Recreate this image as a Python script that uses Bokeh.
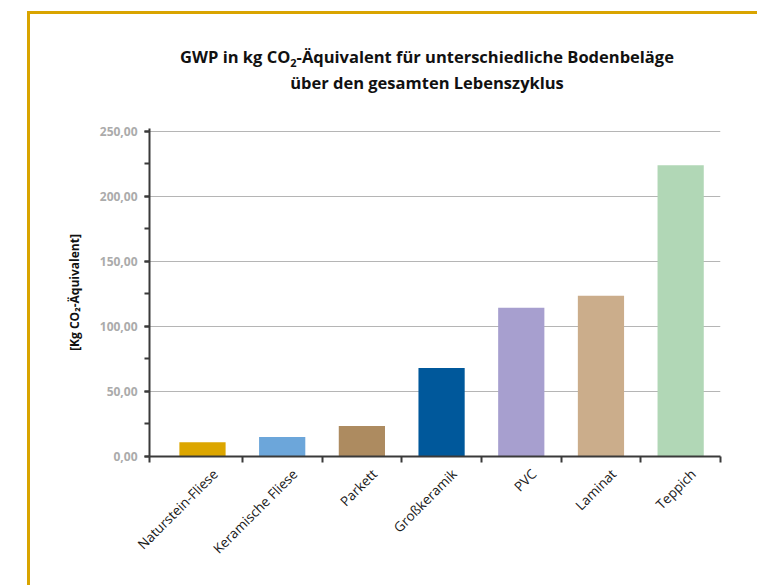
from bokeh.plotting import figure
from bokeh.layouts import column
from bokeh.models import Range1d, FixedTicker, SingleIntervalTicker, ColumnDataSource, Div
from bokeh.embed import file_html
from bokeh.resources import INLINE

# GWP per floor covering over the full life cycle
categories = ["Naturstein-Fliese", "Keramische Fliese", "Parkett", "Großkeramik",
              "PVC", "Laminat", "Teppich"]
gwp_values = [11.0, 15.0, 23.5, 68.0, 114.3, 123.5, 223.8]
bar_colors = ["#dca600", "#6ca6da", "#ad8b60", "#00589b", "#a79fcf", "#cbad8b", "#b1d7b6"]
y_ticks = [0, 50, 100, 150, 200, 250]
y_tick_labels = ["0,00", "50,00", "100,00", "150,00", "200,00", "250,00"]

title_line1 = ('GWP in kg CO<sub style="line-height:0;font-size:11px">2</sub>'
               '-Äquivalent für unterschiedliche Bodenbeläge')
title_line2 = "über den gesamten Lebenszyklus"
y_label = "[Kg CO₂-Äquivalent]"

FONT = "Open Sans"
GOLD = "#d9a400"
AXIS = "#3a3a3a"

n = len(categories)
positions = [i + 0.5 for i in range(n)]
source = ColumnDataSource(dict(x=positions, top=gwp_values, color=bar_colors, name=categories))

# heading block above the chart
heading = Div(
    text=(f'<div style="font-family:\'{FONT}\';font-weight:bold;font-size:16.5px;'
          f'color:#111111;text-align:center;line-height:26px;box-sizing:content-box;'
          f'padding:30px 0 0 67px;width:660px;">'
          f'{title_line1}<br>{title_line2}</div>'),
    width=727, height=100, margin=(0, 0, 0, 0))

x_start = -0.165
p = figure(width=727, height=471,
           x_range=Range1d(x_start, n), y_range=Range1d(0, 252),
           output_backend="svg", toolbar_location=None,
           min_border_left=119, min_border_right=37,
           min_border_top=14, min_border_bottom=129)
p.title.visible = False
p.outline_line_color = None
p.background_fill_color = "white"
p.border_fill_color = "white"

p.vbar(x="x", top="top", width=0.58, color="color", line_color=None, source=source)

# y axis
yax = p.yaxis[0]
yax.ticker = SingleIntervalTicker(interval=50, num_minor_ticks=2)
yax.major_label_overrides = dict(zip(y_ticks, y_tick_labels))
yax.axis_line_color = AXIS
yax.axis_line_width = 2
yax.major_tick_line_color = AXIS
yax.major_tick_line_width = 2
yax.major_tick_in = 0
yax.major_tick_out = 5
yax.minor_tick_line_color = AXIS
yax.minor_tick_line_width = 2
yax.minor_tick_in = 0
yax.minor_tick_out = 5
yax.major_label_text_font = FONT
yax.major_label_text_font_size = "12px"
yax.major_label_text_font_style = "bold"
yax.major_label_text_color = "#ababab"
yax.major_label_standoff = 7
yax.axis_label = y_label
yax.axis_label_text_font = FONT
yax.axis_label_text_font_size = "12px"
yax.axis_label_text_font_style = "bold"
yax.axis_label_text_color = "#111111"
yax.axis_label_standoff = 14

# x axis: names anchored just right of each bar centre, tick marks between the bars
label_shift = 0.16
label_ticks = [x + label_shift for x in positions]
xax = p.xaxis[0]
xax.ticker = FixedTicker(ticks=label_ticks, minor_ticks=[x_start] + list(range(1, n + 1)))
xax.major_label_overrides = dict(zip(label_ticks, categories))
xax.major_label_orientation = 0.785398
xax.axis_line_color = AXIS
xax.axis_line_width = 2
xax.major_tick_line_color = None
xax.minor_tick_line_color = AXIS
xax.minor_tick_line_width = 2
xax.minor_tick_in = 0
xax.minor_tick_out = 6
xax.major_label_text_font = FONT
xax.major_label_text_font_size = "13.5px"
xax.major_label_text_color = "#1a1a1a"
xax.major_label_standoff = 9

p.xgrid.visible = False
p.ygrid.ticker = FixedTicker(ticks=y_ticks[1:])
p.ygrid.grid_line_color = "#b5b5b5"
p.ygrid.grid_line_width = 1.2

page = column(heading, p, spacing=0)
page.styles = {"margin-left": "27px", "margin-top": "11px", "background-color": "white",
               "border-top": f"3px solid {GOLD}", "border-left": f"3px solid {GOLD}"}

open("out.html", "w").write(file_html(page, INLINE))
